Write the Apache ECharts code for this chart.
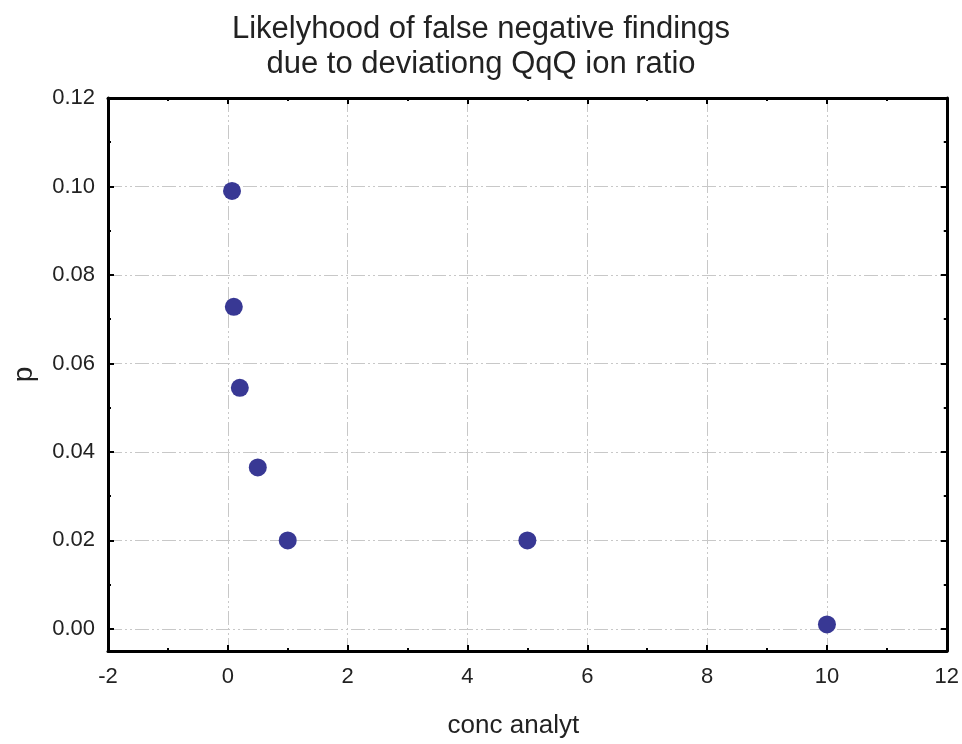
<!DOCTYPE html>
<html>
<head>
<meta charset="utf-8">
<script src="https://cdn.jsdelivr.net/npm/echarts@6/dist/echarts.min.js"></script>
<style>html,body{margin:0;padding:0;background:#fff}#c{width:962px;height:744px}</style>
</head>
<body>
<div id="c"></div>
<script>
var titleText = 'Likelyhood of false negative findings\ndue to deviationg QqQ ion ratio';
var xName = 'conc analyt';
var yName = 'p';
var concValues = [0.07, 0.1, 0.2, 0.5, 1, 5, 10];
var pValues = [0.099, 0.0728, 0.0545, 0.0365, 0.02, 0.02, 0.001];
var yMajorTicks = [0, 0.02, 0.04, 0.06, 0.08, 0.10, 0.12];
var yMinorTicks = [0.01, 0.03, 0.05, 0.07, 0.09, 0.11];

var FONT = '"Liberation Sans", Arial, sans-serif';
var points = concValues.map(function (x, i) { return [x, pValues[i]]; });

var gridLine = { show: true, lineStyle: { color: '#c8c8c8', width: 1, type: [14, 3, 2, 3, 2, 3] } };
var axisLine = { show: true, onZero: false, lineStyle: { color: '#000', width: 3 } };

function xAx(pos, labels) {
  return {
    type: 'value', position: pos, min: -2, max: 12, interval: 2,
    axisLine: axisLine,
    axisTick: { show: true, inside: true, length: 6, lineStyle: { color: '#000', width: 2 } },
    minorTick: { show: true, splitNumber: 2, length: 3, lineStyle: { color: '#000', width: 2 } },
    splitLine: labels ? gridLine : { show: false },
    axisLabel: { show: labels, fontSize: 22, color: '#222', margin: 15, fontFamily: FONT },
    name: labels ? xName : '',
    nameLocation: 'middle', nameGap: 62,
    nameTextStyle: { fontSize: 26, color: '#222', fontFamily: FONT, padding: [0, 28, 0, 0] }
  };
}
function yAx(pos, labels) {
  return {
    type: 'value', position: pos, min: -0.005, max: 0.12,
    axisLine: axisLine,
    axisTick: { show: true, inside: true, length: 6, customValues: yMajorTicks, lineStyle: { color: '#000', width: 2 } },
    splitLine: labels ? gridLine : { show: false },
    axisLabel: { show: labels, customValues: yMajorTicks, fontSize: 22, color: '#222', margin: 13, fontFamily: FONT,
      formatter: function (v) { return v.toFixed(2); } },
    name: labels ? yName : '',
    nameLocation: 'middle', nameGap: 70, nameRotate: 90,
    nameTextStyle: { fontSize: 28, color: '#222', fontFamily: FONT }
  };
}
function yMinor(pos) {
  return {
    type: 'value', position: pos, min: -0.005, max: 0.12,
    axisLine: { show: false, onZero: false },
    axisTick: { show: true, inside: true, length: 3, customValues: yMinorTicks, lineStyle: { color: '#000', width: 2 } },
    splitLine: { show: false },
    axisLabel: { show: false }
  };
}

var chart = echarts.init(document.getElementById('c'), null, { renderer: 'canvas' });
chart.setOption({
  backgroundColor: '#fff',
  animation: false,
  title: {
    text: titleText, left: 'center', top: 7,
    textStyle: { fontSize: 31, fontWeight: 'normal', color: '#222', lineHeight: 35, fontFamily: FONT }
  },
  grid: { left: 108, right: 13, top: 98, bottom: 85, containLabel: false },
  xAxis: [xAx('bottom', true), xAx('top', false)],
  yAxis: [yAx('left', true), yAx('right', false), yMinor('left'), yMinor('right')],
  series: [{
    type: 'scatter', xAxisIndex: 0, yAxisIndex: 0,
    data: points, symbol: 'circle', symbolSize: 18,
    itemStyle: { color: '#383894', opacity: 1 }, z: 5
  }]
});
</script>
</body>
</html>
